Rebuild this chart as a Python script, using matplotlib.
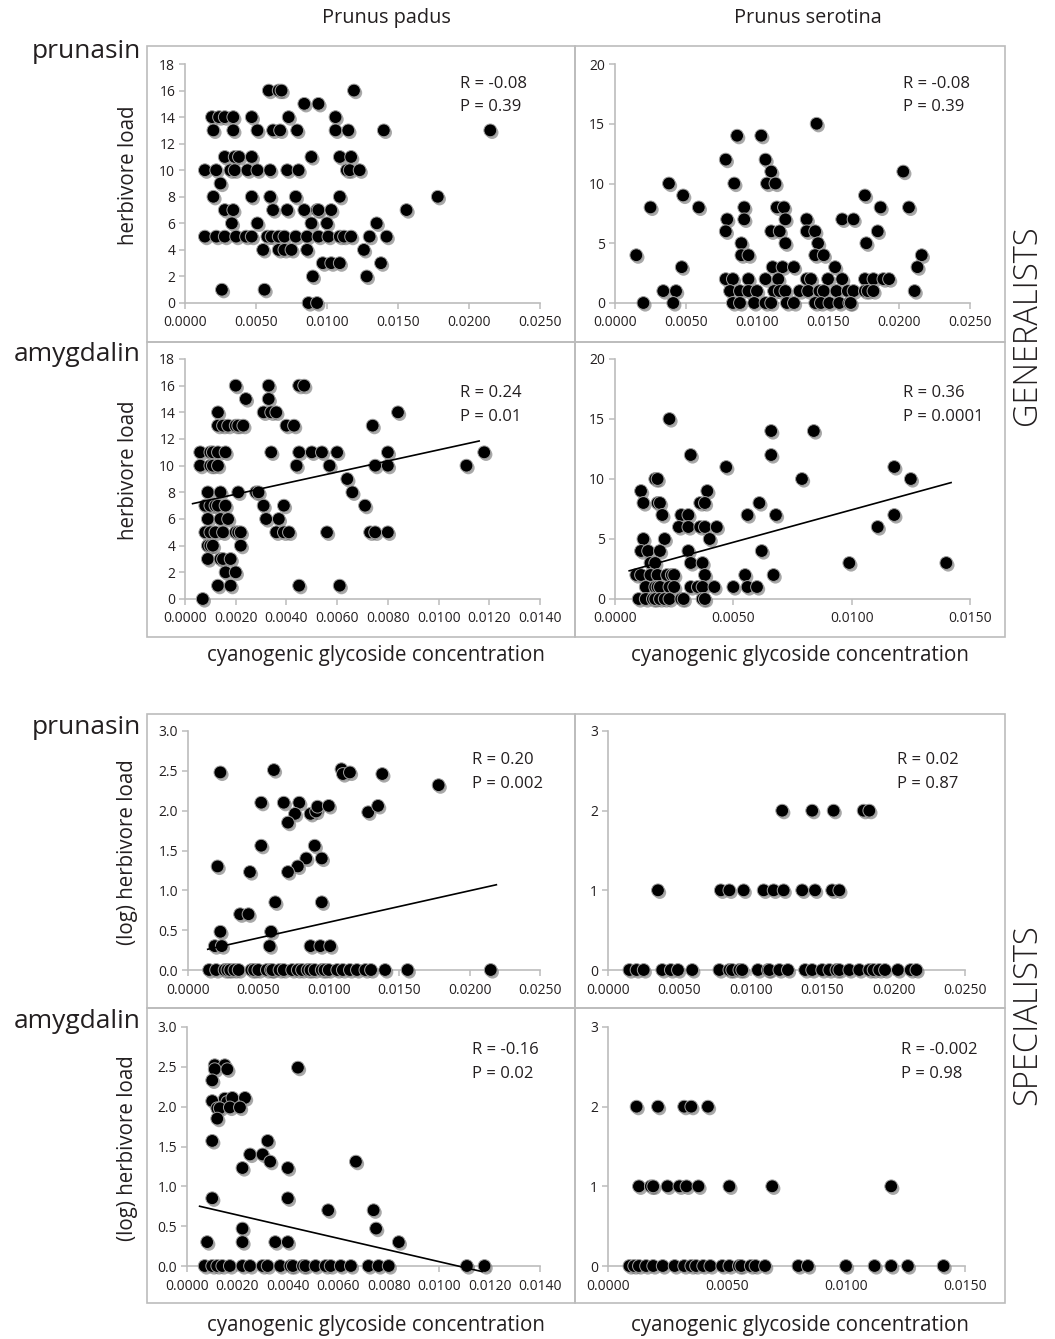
import matplotlib
matplotlib.use("Agg")
import matplotlib.pyplot as plt
import matplotlib.patheffects as pe
from matplotlib.patches import Rectangle
from matplotlib.ticker import FormatStrFormatter, MultipleLocator

plt.rcParams['font.family'] = ['Open Sans', 'DejaVu Sans']

# ---------------- DATA ----------------
column_titles = ["Prunus padus", "Prunus serotina"]
row_labels = ["prunasin", "amygdalin", "prunasin", "amygdalin"]
group_labels = ["GENERALISTS", "SPECIALISTS"]
x_label = "cyanogenic glycoside concentration"
y_label_gen = "herbivore load"
y_label_spec = "(log) herbivore load"

# Generalists, P. padus, prunasin
gen_pad_pru_x = [0.0059, 0.0066, 0.0068, 0.0119,
                 0.0084, 0.0094,
                 0.0019, 0.0024, 0.0028, 0.0034, 0.0047, 0.0073, 0.0106,
                 0.0020, 0.0034, 0.0051, 0.0062, 0.0067, 0.0079, 0.0106, 0.0115, 0.0140, 0.0215,
                 0.0028, 0.0035, 0.0038, 0.0047, 0.0089, 0.0109, 0.0117,
                 0.0014, 0.0022, 0.0032, 0.0035, 0.0044, 0.0051, 0.0060, 0.0072, 0.0080, 0.0114, 0.0116, 0.0123,
                 0.0025,
                 0.0020, 0.0047, 0.0060, 0.0078, 0.0109, 0.0178,
                 0.0028, 0.0034, 0.0062, 0.0072, 0.0084, 0.0093, 0.0094, 0.0103, 0.0156,
                 0.0033, 0.0051, 0.0089, 0.0100, 0.0135,
                 0.0014, 0.0022, 0.0028, 0.0036, 0.0043, 0.0047, 0.0058, 0.0061, 0.0066, 0.0070,
                 0.0078, 0.0086, 0.0094, 0.0101, 0.0109, 0.0112, 0.0117, 0.0130, 0.0142,
                 0.0055, 0.0066, 0.0070, 0.0075, 0.0086, 0.0126,
                 0.0097, 0.0103, 0.0109, 0.0138,
                 0.0090, 0.0128,
                 0.0026, 0.0056,
                 0.0087, 0.0093]
gen_pad_pru_y = [16, 16, 16, 16,
                 15, 15,
                 14, 14, 14, 14, 14, 14, 14,
                 13, 13, 13, 13, 13, 13, 13, 13, 13, 13,
                 11, 11, 11, 11, 11, 11, 11,
                 10, 10, 10, 10, 10, 10, 10, 10, 10, 10, 10, 10,
                 9,
                 8, 8, 8, 8, 8, 8,
                 7, 7, 7, 7, 7, 7, 7, 7, 7,
                 6, 6, 6, 6, 6,
                 5, 5, 5, 5, 5, 5, 5, 5, 5, 5,
                 5, 5, 5, 5, 5, 5, 5, 5, 5,
                 4, 4, 4, 4, 4, 4,
                 3, 3, 3, 3,
                 2, 2,
                 1, 1,
                 0, 0]

# Generalists, P. serotina, prunasin
gen_ser_pru_x = [0.0142,
                 0.0086, 0.0103,
                 0.0078, 0.0106,
                 0.0110, 0.0203,
                 0.0038, 0.0084, 0.0107, 0.0113,
                 0.0048, 0.0176,
                 0.0025, 0.0059, 0.0091, 0.0114, 0.0119, 0.0187, 0.0207,
                 0.0079, 0.0091, 0.0120, 0.0135, 0.0160, 0.0168,
                 0.0078, 0.0110, 0.0116, 0.0135, 0.0141, 0.0185,
                 0.0089, 0.0120, 0.0143, 0.0177,
                 0.0015, 0.0089, 0.0094, 0.0141, 0.0147, 0.0216,
                 0.0047, 0.0111, 0.0118, 0.0126, 0.0155, 0.0213,
                 0.0078, 0.0083, 0.0094, 0.0106, 0.0115, 0.0135, 0.0138, 0.0150, 0.0160,
                 0.0176, 0.0182, 0.0189, 0.0193,
                 0.0034, 0.0043, 0.0081, 0.0088, 0.0094, 0.0100, 0.0112, 0.0116, 0.0120, 0.0130,
                 0.0136, 0.0144, 0.0147, 0.0156, 0.0164, 0.0168, 0.0176, 0.0178, 0.0182, 0.0211,
                 0.0020, 0.0041, 0.0083, 0.0088, 0.0098, 0.0106, 0.0110, 0.0121, 0.0126, 0.0141,
                 0.0145, 0.0151, 0.0158, 0.0165, 0.0166]
gen_ser_pru_y = [15,
                 14, 14,
                 12, 12,
                 11, 11,
                 10, 10, 10, 10,
                 9, 9,
                 8, 8, 8, 8, 8, 8, 8,
                 7, 7, 7, 7, 7, 7,
                 6, 6, 6, 6, 6, 6,
                 5, 5, 5, 5,
                 4, 4, 4, 4, 4, 4,
                 3, 3, 3, 3, 3, 3,
                 2, 2, 2, 2, 2, 2, 2, 2, 2,
                 2, 2, 2, 2,
                 1, 1, 1, 1, 1, 1, 1, 1, 1, 1,
                 1, 1, 1, 1, 1, 1, 1, 1, 1, 1,
                 0, 0, 0, 0, 0, 0, 0, 0, 0, 0,
                 0, 0, 0, 0, 0]

# Generalists, P. padus, amygdalin
gen_pad_amy_x = [0.0020, 0.0033, 0.0045, 0.0047,
                 0.0024, 0.0033,
                 0.0013, 0.0031, 0.0034, 0.0036, 0.0084,
                 0.0013, 0.0015, 0.0017, 0.0020, 0.0021, 0.0023, 0.0040, 0.0043, 0.0074,
                 0.0006, 0.0010, 0.0011, 0.0013, 0.0016, 0.0034, 0.0045, 0.0050, 0.0054, 0.0060,
                 0.0080, 0.0118,
                 0.0006, 0.0010, 0.0011, 0.0013, 0.0044, 0.0057, 0.0075, 0.0080, 0.0111,
                 0.0064,
                 0.0009, 0.0014, 0.0021, 0.0028, 0.0029, 0.0066,
                 0.0008, 0.0010, 0.0012, 0.0013, 0.0016, 0.0031, 0.0039, 0.0071,
                 0.0009, 0.0014, 0.0017, 0.0032, 0.0037,
                 0.0008, 0.0010, 0.0012, 0.0015, 0.0020, 0.0021, 0.0022, 0.0036, 0.0039, 0.0041,
                 0.0056, 0.0073, 0.0075, 0.0080,
                 0.0009, 0.0010, 0.0011, 0.0022,
                 0.0009, 0.0014, 0.0015, 0.0018,
                 0.0016, 0.0020,
                 0.0013, 0.0018, 0.0045, 0.0061,
                 0.0007]
gen_pad_amy_y = [16, 16, 16, 16,
                 15, 15,
                 14, 14, 14, 14, 14,
                 13, 13, 13, 13, 13, 13, 13, 13, 13,
                 11, 11, 11, 11, 11, 11, 11, 11, 11, 11,
                 11, 11,
                 10, 10, 10, 10, 10, 10, 10, 10, 10,
                 9,
                 8, 8, 8, 8, 8, 8,
                 7, 7, 7, 7, 7, 7, 7, 7,
                 6, 6, 6, 6, 6,
                 5, 5, 5, 5, 5, 5, 5, 5, 5, 5,
                 5, 5, 5, 5,
                 4, 4, 4, 4,
                 3, 3, 3, 3,
                 2, 2,
                 1, 1, 1, 1,
                 0]
gen_pad_amy_trend_x = [0.0003, 0.0116]
gen_pad_amy_trend_y = [7.15, 11.85]

# Generalists, P. serotina, amygdalin
gen_ser_amy_x = [0.0023,
                 0.0066, 0.0084,
                 0.0032, 0.0066,
                 0.0047, 0.0118,
                 0.0017, 0.0018, 0.0079, 0.0125,
                 0.0011, 0.0039,
                 0.0012, 0.0018, 0.0019, 0.0036, 0.0038, 0.0061,
                 0.0020, 0.0028, 0.0031, 0.0056, 0.0068, 0.0118,
                 0.0027, 0.0031, 0.0036, 0.0038, 0.0043, 0.0111,
                 0.0012, 0.0021, 0.0040,
                 0.0011, 0.0014, 0.0019, 0.0031, 0.0062,
                 0.0015, 0.0017, 0.0032, 0.0037, 0.0099, 0.0140,
                 0.0009, 0.0011, 0.0015, 0.0018, 0.0022, 0.0024, 0.0025, 0.0038, 0.0055, 0.0067,
                 0.0013, 0.0017, 0.0018, 0.0019, 0.0023, 0.0025, 0.0032, 0.0035, 0.0037, 0.0042,
                 0.0050, 0.0056, 0.0060,
                 0.0010, 0.0013, 0.0016, 0.0017, 0.0019, 0.0021, 0.0023, 0.0028, 0.0029, 0.0037,
                 0.0038]
gen_ser_amy_y = [15,
                 14, 14,
                 12, 12,
                 11, 11,
                 10, 10, 10, 10,
                 9, 9,
                 8, 8, 8, 8, 8, 8,
                 7, 7, 7, 7, 7, 7,
                 6, 6, 6, 6, 6, 6,
                 5, 5, 5,
                 4, 4, 4, 4, 4,
                 3, 3, 3, 3, 3, 3,
                 2, 2, 2, 2, 2, 2, 2, 2, 2, 2,
                 1, 1, 1, 1, 1, 1, 1, 1, 1, 1,
                 1, 1, 1,
                 0, 0, 0, 0, 0, 0, 0, 0, 0, 0,
                 0]
gen_ser_amy_trend_x = [0.0006, 0.0142]
gen_ser_amy_trend_y = [2.35, 9.7]

# Specialists, P. padus, prunasin (log load)
spe_pad_pru_x = [0.0023, 0.0061, 0.0109, 0.0110, 0.0115, 0.0138, 0.0178,
                 0.0052, 0.0068, 0.0079, 0.0076, 0.0071, 0.0087, 0.0091, 0.0092, 0.0100, 0.0128, 0.0135,
                 0.0052, 0.0090, 0.0084, 0.0095, 0.0078, 0.0021, 0.0044, 0.0071,
                 0.0062, 0.0095, 0.0037, 0.0043, 0.0023, 0.0059,
                 0.0019, 0.0024, 0.0058, 0.0087, 0.0094, 0.0101,
                 0.0015, 0.0020, 0.0026, 0.0028, 0.0030, 0.0033, 0.0036, 0.0045, 0.0047, 0.0050,
                 0.0056, 0.0059, 0.0060, 0.0065, 0.0068, 0.0074, 0.0078, 0.0081, 0.0085, 0.0087,
                 0.0090, 0.0095, 0.0097, 0.0100, 0.0106, 0.0110, 0.0115, 0.0120, 0.0126, 0.0130,
                 0.0140, 0.0156, 0.0215]
spe_pad_pru_y = [2.48, 2.51, 2.52, 2.46, 2.48, 2.46, 2.32,
                 2.10, 2.10, 2.10, 1.96, 1.85, 1.96, 1.99, 2.05, 2.06, 1.98, 2.06,
                 1.56, 1.56, 1.40, 1.40, 1.30, 1.30, 1.23, 1.23,
                 0.85, 0.85, 0.70, 0.70, 0.48, 0.48,
                 0.30, 0.30, 0.30, 0.30, 0.30, 0.30,
                 0, 0, 0, 0, 0, 0, 0, 0, 0, 0,
                 0, 0, 0, 0, 0, 0, 0, 0, 0, 0,
                 0, 0, 0, 0, 0, 0, 0, 0, 0, 0,
                 0, 0, 0]
spe_pad_pru_trend_x = [0.0014, 0.0219]
spe_pad_pru_trend_y = [0.26, 1.07]

# Specialists, P. serotina, prunasin
spe_ser_pru_x = [0.0122, 0.0143, 0.0158, 0.0179, 0.0183,
                 0.0035, 0.0079, 0.0085, 0.0095, 0.0109, 0.0116, 0.0123, 0.0136, 0.0145, 0.0157, 0.0162,
                 0.0015, 0.0020, 0.0025, 0.0038, 0.0044, 0.0049, 0.0059, 0.0078, 0.0085, 0.0087,
                 0.0092, 0.0094, 0.0105, 0.0112, 0.0113, 0.0120, 0.0126, 0.0138, 0.0143, 0.0150,
                 0.0155, 0.0160, 0.0162, 0.0169, 0.0176, 0.0183, 0.0186, 0.0190, 0.0194, 0.0203,
                 0.0212, 0.0216]
spe_ser_pru_y = [2, 2, 2, 2, 2,
                 1, 1, 1, 1, 1, 1, 1, 1, 1, 1, 1,
                 0, 0, 0, 0, 0, 0, 0, 0, 0, 0,
                 0, 0, 0, 0, 0, 0, 0, 0, 0, 0,
                 0, 0, 0, 0, 0, 0, 0, 0, 0, 0,
                 0, 0]

# Specialists, P. padus, amygdalin (log load)
spe_pad_amy_x = [0.0011, 0.0015, 0.0011, 0.0016, 0.0044, 0.0010,
                 0.0010, 0.0015, 0.0016, 0.0018, 0.0023, 0.0012, 0.0013, 0.0017, 0.0021, 0.0012,
                 0.0010, 0.0032, 0.0025, 0.0030, 0.0033, 0.0067, 0.0022, 0.0040,
                 0.0010, 0.0040, 0.0056, 0.0074, 0.0022, 0.0075,
                 0.0008, 0.0022, 0.0035, 0.0040, 0.0084,
                 0.0007, 0.0010, 0.0012, 0.0014, 0.0017, 0.0022, 0.0025, 0.0030, 0.0032, 0.0037,
                 0.0041, 0.0042, 0.0046, 0.0047, 0.0051, 0.0055, 0.0057, 0.0061, 0.0065, 0.0072,
                 0.0076, 0.0080, 0.0111, 0.0118]
spe_pad_amy_y = [2.52, 2.52, 2.47, 2.47, 2.49, 2.33,
                 2.07, 2.10, 2.06, 2.11, 2.11, 1.98, 1.98, 1.99, 1.99, 1.85,
                 1.57, 1.57, 1.40, 1.40, 1.31, 1.31, 1.23, 1.23,
                 0.85, 0.85, 0.70, 0.70, 0.47, 0.47,
                 0.30, 0.30, 0.30, 0.30, 0.30,
                 0, 0, 0, 0, 0, 0, 0, 0, 0, 0,
                 0, 0, 0, 0, 0, 0, 0, 0, 0, 0,
                 0, 0, 0, 0]
spe_pad_amy_trend_x = [0.0005, 0.0117]
spe_pad_amy_trend_y = [0.75, -0.07]

# Specialists, P. serotina, amygdalin
spe_ser_amy_x = [0.0012, 0.0021, 0.0032, 0.0035, 0.0042,
                 0.0013, 0.0018, 0.0019, 0.0025, 0.0030, 0.0033, 0.0038, 0.0051, 0.0069, 0.0119,
                 0.0009, 0.0011, 0.0013, 0.0016, 0.0019, 0.0023, 0.0028, 0.0032, 0.0035, 0.0037,
                 0.0040, 0.0043, 0.0048, 0.0051, 0.0055, 0.0056, 0.0060, 0.0062, 0.0066, 0.0080,
                 0.0084, 0.0100, 0.0112, 0.0119, 0.0126, 0.0141]
spe_ser_amy_y = [2, 2, 2, 2, 2,
                 1, 1, 1, 1, 1, 1, 1, 1, 1, 1,
                 0, 0, 0, 0, 0, 0, 0, 0, 0, 0,
                 0, 0, 0, 0, 0, 0, 0, 0, 0, 0,
                 0, 0, 0, 0, 0, 0]

stats_R = ["R = -0.08", "R = -0.08", "R = 0.24", "R = 0.36",
           "R = 0.20", "R = 0.02", "R = -0.16", "R = -0.002"]
stats_P = ["P = 0.39", "P = 0.39", "P = 0.01", "P = 0.0001",
           "P = 0.002", "P = 0.87", "P = 0.02", "P = 0.98"]

# ---------------- FIGURE ----------------
W, H = 1055, 1339
fig = plt.figure(figsize=(W / 100, H / 100), dpi=100)
TXT = '#231f20'
GRID = '#bcbcbc'


def fx(px):
    return px / W


def fy(py):
    return 1 - py / H


# panel frames
for (x0, x1) in [(147, 575), (575, 1005)]:
    for (y0, y1) in [(46, 342), (342, 637), (714, 1008), (1008, 1303)]:
        fig.add_artist(Rectangle((fx(x0), fy(y1)), fx(x1) - fx(x0), fy(y0) - fy(y1),
                                 transform=fig.transFigure, fill=False,
                                 ec=GRID, lw=1.2))

shadow = [pe.SimplePatchShadow(offset=(1.3, -1.6), shadow_rgbFace='#555555', alpha=0.5),
          pe.Normal()]


def make_ax(x0, x1, ytop, ybot, xmax, xstep, ymax, ystep, yfmt):
    ax = fig.add_axes([fx(x0), fy(ybot), fx(x1) - fx(x0), fy(ytop) - fy(ybot)])
    ax.set_xlim(0, xmax)
    ax.set_ylim(0, ymax)
    ax.xaxis.set_major_locator(MultipleLocator(xstep))
    ax.yaxis.set_major_locator(MultipleLocator(ystep))
    ax.xaxis.set_major_formatter(FormatStrFormatter('%.4f'))
    ax.yaxis.set_major_formatter(FormatStrFormatter(yfmt))
    for s in ['top', 'right']:
        ax.spines[s].set_visible(False)
    for s in ['left', 'bottom']:
        ax.spines[s].set_color(GRID)
        ax.spines[s].set_linewidth(1.2)
    ax.tick_params(direction='out', length=4, width=1.1, color=GRID,
                   labelsize=10, labelcolor=TXT, pad=3)
    ax.tick_params(axis='x', pad=5)
    ax.patch.set_alpha(0)
    return ax


def scatter(ax, x, y):
    ax.scatter(x, y, s=85, c='black', edgecolors='#a0a0a0', linewidths=0.7,
               clip_on=False, zorder=3, path_effects=shadow)


def stats(ax, i, fxr, fyr, dy):
    ax.text(fxr, fyr, stats_R[i], transform=ax.transAxes, fontsize=12,
            color=TXT, va='center', ha='left')
    ax.text(fxr, fyr - dy, stats_P[i], transform=ax.transAxes, fontsize=12,
            color=TXT, va='center', ha='left')


# Panel 1
ax1 = make_ax(185, 540, 64, 303, 0.025, 0.005, 18, 2, '%d')
scatter(ax1, gen_pad_pru_x, gen_pad_pru_y)
stats(ax1, 0, 0.775, 0.918, 0.10)

# Panel 2
ax2 = make_ax(615, 970, 64, 303, 0.025, 0.005, 20, 5, '%d')
scatter(ax2, gen_ser_pru_x, gen_ser_pru_y)
stats(ax2, 1, 0.81, 0.918, 0.10)

# Panel 3
ax3 = make_ax(185, 540, 359, 599, 0.014, 0.002, 18, 2, '%d')
scatter(ax3, gen_pad_amy_x, gen_pad_amy_y)
ax3.plot(gen_pad_amy_trend_x, gen_pad_amy_trend_y, color='black', lw=1.2, zorder=4)
stats(ax3, 2, 0.775, 0.858, 0.10)

# Panel 4
ax4 = make_ax(615, 970, 359, 599, 0.015, 0.005, 20, 5, '%d')
scatter(ax4, gen_ser_amy_x, gen_ser_amy_y)
ax4.plot(gen_ser_amy_trend_x, gen_ser_amy_trend_y, color='black', lw=1.2, zorder=4)
stats(ax4, 3, 0.81, 0.858, 0.10)

# Panel 5
ax5 = make_ax(188, 540, 731, 970, 0.025, 0.005, 3.0, 0.5, '%.1f')
scatter(ax5, spe_pad_pru_x, spe_pad_pru_y)
ax5.plot(spe_pad_pru_trend_x, spe_pad_pru_trend_y, color='black', lw=1.2, zorder=4)
stats(ax5, 4, 0.807, 0.88, 0.10)

# Panel 6
ax6 = make_ax(608, 965, 731, 970, 0.025, 0.005, 3, 1, '%d')
scatter(ax6, spe_ser_pru_x, spe_ser_pru_y)
stats(ax6, 5, 0.81, 0.88, 0.10)

# Panel 7
ax7 = make_ax(187, 540, 1027, 1266, 0.014, 0.002, 3.0, 0.5, '%.1f')
scatter(ax7, spe_pad_amy_x, spe_pad_amy_y)
ax7.plot(spe_pad_amy_trend_x, spe_pad_amy_trend_y, color='black', lw=1.2,
         zorder=4, clip_on=False)
stats(ax7, 6, 0.807, 0.905, 0.10)

# Panel 8
ax8 = make_ax(608, 965, 1027, 1266, 0.015, 0.005, 3, 1, '%d')
scatter(ax8, spe_ser_amy_x, spe_ser_amy_y)
stats(ax8, 7, 0.82, 0.905, 0.10)

# Column titles
fig.text(fx(386), fy(18), column_titles[0], fontsize=14.3, color=TXT, ha='center', va='center')
fig.text(fx(808), fy(18), column_titles[1], fontsize=14.3, color=TXT, ha='center', va='center')

# Row labels
for lab, yy in zip(row_labels, [52, 355, 727, 1022]):
    fig.text(fx(141), fy(yy), lab, fontsize=19, color=TXT, ha='right', va='center')

# Y labels
for lab, yy in [(y_label_gen, 175), (y_label_gen, 470), (y_label_spec, 852), (y_label_spec, 1148)]:
    fig.text(fx(128), fy(yy), lab, fontsize=14.8, color=TXT, ha='center', va='center',
             rotation=90)

# X labels
for xx, yy in [(376, 656), (800, 656), (376, 1326), (800, 1326)]:
    fig.text(fx(xx), fy(yy), x_label, fontsize=14.8, color=TXT, ha='center', va='center')

# Group labels
fig.text(fx(1027), fy(325), group_labels[0], fontsize=23.5, color=TXT, ha='center',
         va='center', rotation=90, fontweight='light')
fig.text(fx(1027), fy(1015), group_labels[1], fontsize=23.5, color=TXT, ha='center',
         va='center', rotation=90, fontweight='light')

fig.savefig("out.png", dpi=100)
